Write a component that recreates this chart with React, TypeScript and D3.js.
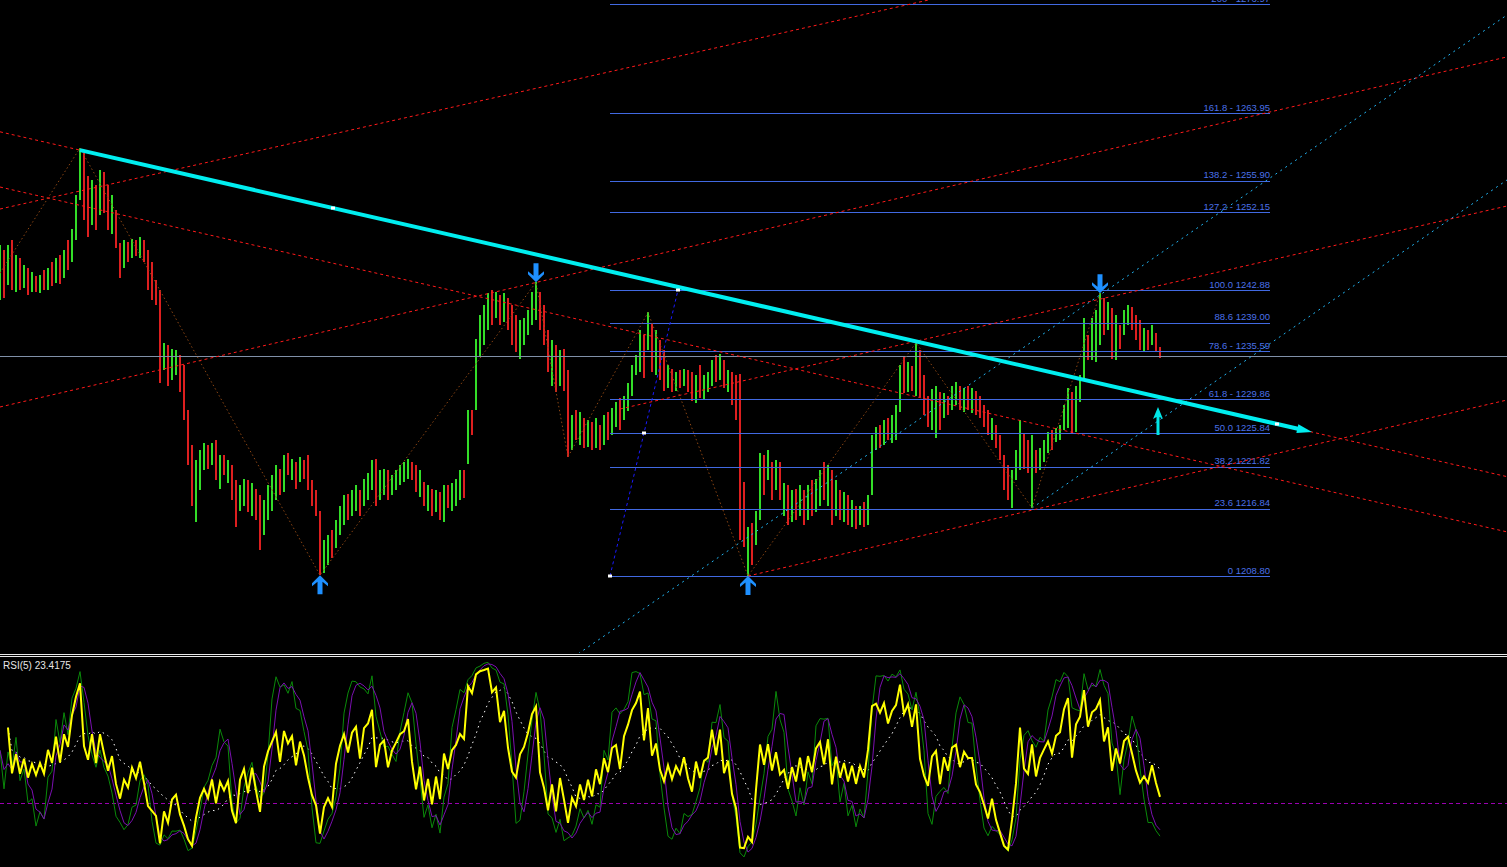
import React, { useEffect } from 'react';
import * as d3 from 'd3';

const W = 1507;
const H = 867;

// ---- price bars (one entry per bar) ----
const highs = [
  1248.2, 1247.6, 1248.3, 1248.8, 1247.0, 1246.7, 1245.9, 1245.5, 1245.0, 1244.5,
  1244.7, 1245.3, 1245.5, 1246.2, 1246.7, 1247.1, 1247.6, 1248.8, 1250.2, 1254.2,
  1259.8, 1259.2, 1256.5, 1256.0, 1255.4, 1257.2, 1256.9, 1255.4, 1254.2, 1252.4,
  1248.5, 1248.8, 1248.6, 1249.0, 1248.8, 1249.2, 1248.8, 1247.6, 1246.2, 1244.1,
  1242.9, 1236.6, 1236.3, 1235.9, 1235.7, 1235.1, 1233.9, 1228.6, 1224.4, 1222.6,
  1223.8, 1224.6, 1224.4, 1224.7, 1225.0, 1223.2, 1223.2, 1222.6, 1222.0, 1220.2,
  1219.6, 1220.4, 1220.2, 1219.9, 1219.2, 1218.4, 1217.8, 1219.6, 1220.8, 1222.0,
  1221.6, 1223.2, 1223.4, 1222.8, 1222.4, 1223.0, 1222.6, 1223.2, 1220.2, 1219.0,
  1216.6, 1213.1, 1213.7, 1214.3, 1215.5, 1217.2, 1218.4, 1218.6, 1219.0, 1219.6,
  1219.0, 1220.4, 1221.1, 1222.6, 1222.8, 1221.4, 1221.6, 1221.4, 1220.8, 1221.4,
  1222.0, 1222.4, 1222.8, 1222.4, 1222.0, 1221.4, 1220.0, 1219.6, 1219.2, 1219.0,
  1218.8, 1219.6, 1219.6, 1219.9, 1220.4, 1221.4, 1221.4, 1228.6, 1228.6, 1237.1,
  1239.9, 1241.1, 1242.5, 1242.9, 1242.6, 1242.3, 1242.5, 1241.9, 1241.1, 1239.9,
  1239.3, 1239.5, 1240.5, 1242.6, 1243.8, 1242.6, 1241.1, 1238.1, 1236.9, 1236.3,
  1235.7, 1235.9, 1233.3, 1228.0, 1228.6, 1228.3, 1227.6, 1227.4, 1227.1, 1227.6,
  1226.8, 1228.0, 1228.3, 1228.8, 1229.5, 1230.0, 1230.3, 1231.8, 1233.9, 1235.1,
  1238.1, 1237.5, 1240.2, 1239.0, 1238.1, 1236.9, 1235.7, 1233.9, 1233.5, 1233.1,
  1233.3, 1233.5, 1233.3, 1233.1, 1232.7, 1233.9, 1232.7, 1233.1, 1234.5, 1235.1,
  1235.3, 1234.5, 1233.3, 1233.1, 1232.7, 1232.9, 1220.0, 1214.6, 1215.1, 1216.6,
  1223.5, 1223.2, 1223.8, 1222.4, 1222.6, 1222.4, 1219.9, 1219.6, 1219.0, 1219.2,
  1219.6, 1219.0, 1219.6, 1220.2, 1220.4, 1221.4, 1222.4, 1222.0, 1221.4, 1220.2,
  1219.0, 1218.8, 1218.4, 1217.8, 1217.2, 1217.2, 1217.6, 1218.4, 1225.6, 1226.5,
  1226.8, 1227.4, 1227.6, 1228.0, 1229.2, 1233.9, 1234.9, 1234.3, 1233.8, 1236.6,
  1235.7, 1232.7, 1230.3, 1231.1, 1231.5, 1230.7, 1230.6, 1230.3, 1231.5, 1231.9,
  1231.5, 1231.2, 1231.5, 1231.2, 1230.9, 1230.3, 1229.2, 1228.6, 1227.6, 1226.8,
  1225.6, 1223.2, 1222.0, 1221.4, 1223.8, 1227.4, 1225.8, 1225.0, 1225.6, 1223.8,
  1224.0, 1225.0, 1225.9, 1226.2, 1226.4, 1226.8, 1229.2, 1231.2, 1230.7, 1231.5,
  1232.7, 1239.5, 1237.5, 1239.6, 1240.5, 1242.5, 1241.9, 1241.4, 1240.7, 1239.9,
  1238.7, 1240.5, 1241.1, 1240.9, 1239.9, 1239.3, 1238.4, 1238.1, 1238.7, 1237.7,
  1236.1,
];

const lows = [
  1241.7, 1241.9, 1243.5, 1242.9, 1242.6, 1242.9, 1243.1, 1242.3, 1242.6, 1242.6,
  1242.5, 1242.9, 1242.9, 1243.3, 1243.7, 1243.6, 1244.3, 1245.3, 1246.2, 1248.8,
  1253.6, 1251.2, 1249.2, 1250.6, 1250.0, 1251.8, 1252.1, 1250.0, 1249.6, 1247.9,
  1244.3, 1245.5, 1246.2, 1246.7, 1246.9, 1246.7, 1246.2, 1242.9, 1241.7, 1241.1,
  1231.8, 1233.3, 1231.5, 1232.1, 1232.7, 1230.7, 1227.4, 1222.0, 1217.2, 1215.2,
  1219.0, 1221.4, 1221.6, 1222.0, 1220.2, 1219.2, 1220.8, 1219.9, 1217.8, 1214.6,
  1216.6, 1217.2, 1216.4, 1216.0, 1215.5, 1211.9, 1213.7, 1215.5, 1216.6, 1217.8,
  1218.4, 1218.8, 1220.8, 1220.2, 1219.2, 1220.0, 1220.4, 1219.0, 1217.2, 1216.0,
  1208.9, 1209.2, 1210.1, 1210.9, 1212.1, 1213.7, 1214.9, 1215.5, 1216.0, 1216.6,
  1216.0, 1217.2, 1217.8, 1219.0, 1217.2, 1217.8, 1218.4, 1217.8, 1218.4, 1219.0,
  1219.6, 1220.0, 1220.4, 1220.2, 1218.8, 1218.2, 1217.2, 1216.6, 1216.0, 1216.4,
  1215.5, 1215.2, 1216.9, 1216.6, 1217.2, 1217.8, 1218.1, 1222.2, 1225.6, 1228.6,
  1234.9, 1236.3, 1238.1, 1238.7, 1239.5, 1238.7, 1239.1, 1238.1, 1236.3, 1235.5,
  1234.7, 1236.3, 1237.5, 1238.7, 1239.3, 1238.1, 1236.3, 1233.1, 1231.5, 1230.7,
  1231.5, 1230.9, 1223.0, 1223.8, 1225.0, 1224.4, 1224.0, 1224.2, 1223.8, 1224.0,
  1223.8, 1224.4, 1225.0, 1225.6, 1226.5, 1226.2, 1227.4, 1228.5, 1230.3, 1232.7,
  1233.1, 1232.4, 1235.7, 1233.1, 1232.7, 1232.1, 1230.9, 1231.2, 1230.7, 1230.9,
  1231.2, 1231.5, 1230.7, 1229.7, 1229.4, 1230.0, 1229.8, 1230.7, 1231.5, 1231.9,
  1232.1, 1231.2, 1230.7, 1229.2, 1227.4, 1213.1, 1212.3, 1208.8, 1210.1, 1212.5,
  1215.5, 1218.4, 1220.2, 1217.8, 1219.0, 1217.8, 1216.0, 1214.9, 1215.2, 1215.5,
  1216.0, 1214.9, 1215.5, 1216.0, 1216.4, 1217.2, 1217.8, 1217.2, 1214.9, 1216.0,
  1215.5, 1215.2, 1214.9, 1214.6, 1214.4, 1214.9, 1214.6, 1214.9, 1218.4, 1223.8,
  1224.0, 1224.4, 1225.0, 1224.7, 1225.0, 1228.3, 1230.6, 1230.7, 1230.9, 1230.3,
  1230.1, 1228.0, 1226.5, 1226.2, 1225.3, 1226.2, 1227.6, 1228.0, 1228.6, 1229.2,
  1228.6, 1228.3, 1228.6, 1228.2, 1228.0, 1227.6, 1226.5, 1225.6, 1225.0, 1224.1,
  1222.6, 1219.0, 1217.8, 1216.9, 1220.2, 1221.4, 1221.6, 1221.1, 1216.9, 1221.1,
  1221.4, 1222.4, 1223.5, 1223.8, 1224.8, 1225.0, 1226.2, 1226.4, 1225.8, 1225.9,
  1229.5, 1232.1, 1234.5, 1234.5, 1234.3, 1236.3, 1237.5, 1238.1, 1234.7, 1234.5,
  1235.9, 1237.5, 1238.7, 1238.1, 1236.9, 1235.7, 1235.5, 1235.7, 1236.3, 1235.5,
  1234.8,
];

const closes = [
  1245.3, 1242.9, 1247.6, 1244.1, 1246.2, 1243.5, 1245.3, 1242.9, 1244.3, 1243.1,
  1244.1, 1243.2, 1245.0, 1244.1, 1246.2, 1244.5, 1247.0, 1246.2, 1249.8, 1253.6,
  1258.4, 1252.4, 1250.6, 1254.8, 1251.0, 1256.2, 1253.6, 1251.0, 1253.0, 1248.8,
  1245.9, 1247.9, 1246.7, 1248.6, 1247.4, 1248.8, 1246.7, 1243.5, 1242.7, 1241.9,
  1233.3, 1235.9, 1232.7, 1234.7, 1235.1, 1231.5, 1228.6, 1223.2, 1219.0, 1221.4,
  1223.2, 1224.0, 1222.6, 1224.0, 1220.8, 1222.4, 1221.4, 1222.0, 1218.4, 1216.0,
  1219.0, 1219.9, 1217.2, 1219.2, 1216.6, 1213.1, 1217.2, 1219.0, 1220.2, 1221.4,
  1219.0, 1222.6, 1221.6, 1222.4, 1220.2, 1222.4, 1221.4, 1219.6, 1217.8, 1216.6,
  1210.7, 1212.5, 1213.1, 1211.9, 1214.9, 1216.6, 1217.8, 1216.6, 1218.4, 1219.0,
  1217.2, 1219.9, 1220.4, 1222.0, 1218.4, 1220.4, 1220.8, 1219.0, 1220.2, 1220.8,
  1221.4, 1221.6, 1222.4, 1220.8, 1219.2, 1220.2, 1217.8, 1218.8, 1216.6, 1218.0,
  1216.0, 1219.0, 1217.8, 1219.2, 1219.6, 1220.4, 1220.2, 1228.0, 1227.6, 1236.3,
  1239.3, 1240.5, 1241.9, 1240.5, 1242.0, 1239.9, 1241.7, 1239.1, 1236.9, 1236.3,
  1238.1, 1238.7, 1239.9, 1241.9, 1242.9, 1238.7, 1237.1, 1233.9, 1235.7, 1231.5,
  1234.3, 1230.9, 1225.0, 1227.4, 1225.6, 1227.6, 1225.0, 1226.8, 1224.4, 1226.8,
  1225.0, 1227.4, 1226.0, 1228.3, 1228.6, 1226.8, 1229.8, 1231.2, 1233.3, 1234.5,
  1236.9, 1233.9, 1239.3, 1234.5, 1236.3, 1233.1, 1231.5, 1233.1, 1231.5, 1232.6,
  1231.9, 1233.1, 1231.5, 1230.3, 1232.1, 1230.9, 1231.9, 1232.1, 1233.9, 1232.7,
  1234.5, 1231.9, 1232.7, 1230.0, 1228.3, 1213.7, 1213.1, 1214.0, 1211.3, 1216.0,
  1222.8, 1219.6, 1223.2, 1219.0, 1222.0, 1218.4, 1219.0, 1216.0, 1218.4, 1216.4,
  1219.0, 1216.0, 1218.8, 1216.9, 1219.6, 1220.4, 1218.4, 1221.1, 1216.0, 1219.2,
  1216.4, 1218.0, 1215.7, 1217.2, 1215.1, 1216.6, 1215.5, 1217.8, 1225.0, 1225.6,
  1225.0, 1226.8, 1225.6, 1227.4, 1228.3, 1233.3, 1231.5, 1233.3, 1231.9, 1235.7,
  1230.9, 1228.8, 1227.4, 1230.3, 1230.9, 1227.4, 1230.0, 1228.6, 1230.9, 1231.2,
  1229.5, 1230.7, 1230.3, 1230.3, 1228.8, 1228.3, 1227.4, 1226.2, 1226.8, 1225.0,
  1223.2, 1220.0, 1218.4, 1219.6, 1221.4, 1226.5, 1222.6, 1222.0, 1225.0, 1221.6,
  1223.5, 1224.4, 1225.2, 1224.4, 1225.9, 1226.2, 1228.6, 1230.3, 1226.8, 1230.7,
  1231.9, 1238.7, 1235.5, 1238.7, 1239.5, 1241.7, 1238.3, 1240.5, 1235.7, 1238.7,
  1236.9, 1239.9, 1240.5, 1239.1, 1237.5, 1236.3, 1236.7, 1236.2, 1237.1, 1236.0,
  1235.0,
];

// ---- Fibonacci retracement ----
const fibLow = 1208.8;
const fibHigh = 1242.88;
const fibAnchorIdx = [152.5, 169.5];
const fibEndIdx = 317.5;
const fibLevels = [0, 23.6, 38.2, 50, 61.8, 78.6, 88.6, 100, 127.2, 138.2, 161.8, 200];
const fibLabels = [
  '0 1208.80', '23.6 1216.84', '38.2 1221.82', '50.0 1225.84', '61.8 - 1229.86',
  '78.6 - 1235.59', '88.6 1239.00', '100.0 1242.88', '127.2 - 1252.15',
  '138.2 - 1255.90', '161.8 - 1263.95', '200 - 1276.97',
];

// ---- drawn objects (bar index, price) ----
const mainTrend = [[83.25, 1252.65], [319.25, 1226.91]];
const mainTrendSpan = [20, 328];
const redLines = [
  { a: [0, 1252.53], b: [100, 1263.26], ray: false },
  { a: [0, 1228.94], b: [250, 1256.62], ray: false },
  { a: [83.25, 1252.65], b: [319.25, 1226.91], ray: false },
  { a: [0, 1255.15], b: [250, 1227.88], ray: false },
  { a: [187, 1208.8], b: [376.75, 1229.77], ray: true },
  { a: [155, 1228.7], b: [376.75, 1252.89], ray: true },
];
const cyanDotted = [
  { a: [144.5, 1199.51], b: [376.75, 1275.65], ray: false },
  { a: [258, 1216.9], b: [376.75, 1255.99], ray: true },
];
const zigzag = [
  [0, 1244.9], [20, 1259.8], [80, 1208.9], [134, 1243.8], [142, 1223.0],
  [162, 1240.2], [187, 1208.8], [229, 1236.6], [258, 1216.9], [275, 1242.5],
];
const upSignals = [80, 187];
const downSignals = [134, 275];
const cyanArrow = [289.5, 1228.94];

const rsiPeriod = 5;
const rsiLabel = 'RSI(5) 23.4175';
const rsiLevel = 30;

// ---- indicator math ----
function computeRSI(c: number[], n: number) {
  const out = new Array(c.length).fill(NaN);
  let ag = 0, al = 0;
  for (let i = 1; i < c.length; i++) {
    const d = c[i] - c[i - 1];
    const g = Math.max(d, 0), l = Math.max(-d, 0);
    if (i <= n) {
      ag += g; al += l;
      const a = ag / i, b = al / i;
      if (i >= 2) out[i] = b === 0 ? 100 : 100 - 100 / (1 + a / b);
      if (i === n) { ag = ag / n; al = al / n; }
    } else {
      ag = (ag * (n - 1) + g) / n;
      al = (al * (n - 1) + l) / n;
      out[i] = al === 0 ? 100 : 100 - 100 / (1 + ag / al);
    }
  }
  return out;
}
function computeStoch(h: number[], l: number[], c: number[], k: number, slow: number) {
  const num: number[] = [], den: number[] = [];
  for (let i = 0; i < c.length; i++) {
    const s = Math.max(0, i - k + 1);
    const hh = d3.max(h.slice(s, i + 1)) as number;
    const ll = d3.min(l.slice(s, i + 1)) as number;
    num.push(c[i] - ll); den.push(hh - ll);
  }
  return c.map((_, i) => {
    const s = Math.max(0, i - slow + 1);
    const n = d3.sum(num.slice(s, i + 1)), dd = d3.sum(den.slice(s, i + 1));
    return dd === 0 ? 50 : (100 * n) / dd;
  });
}
function sma(a: number[], n: number) {
  return a.map((_, i) => {
    const vals = a.slice(Math.max(0, i - n + 1), i + 1).filter((v) => !isNaN(v));
    return vals.length ? (d3.mean(vals) as number) : NaN;
  });
}

export default function App() {
  useEffect(() => {
    document.body.style.margin = '0';
    document.body.style.background = '#000';
  }, []);

  const N = closes.length;
  const x = d3.scaleLinear().domain([0, N - 1]).range([0, 1160]);
  const y = d3.scaleLinear().domain([fibLow, fibHigh]).range([576, 290]);
  const yR = d3.scaleLinear().domain([0, 100]).range([866, 657]);

  const lineEnds = (a: number[], b: number[], ray: boolean) => {
    const x1 = x(a[0]), y1 = y(a[1]), x2 = x(b[0]), y2 = y(b[1]);
    const m = (y2 - y1) / (x2 - x1);
    const xs = ray ? x1 : 0;
    return { x1: xs, y1: y1 + m * (xs - x1), x2: W, y2: y1 + m * (W - x1) };
  };

  const rsi = computeRSI(closes, rsiPeriod);
  const stK = computeStoch(highs, lows, closes, 7, 3);
  const stD = sma(stK, 3);
  const rsiMa = sma(rsi, 10);
  const rLine = d3.line<number>().x((_, i) => x(i)).y((v) => yR(v)).defined((v) => !isNaN(v));

  // main trend line geometry
  const tA = mainTrend[0], tB = mainTrend[1];
  const tSlope = (tB[1] - tA[1]) / (tB[0] - tA[0]);
  const tPrice = (i: number) => tA[1] + tSlope * (i - tA[0]);
  const sx = x(mainTrendSpan[0]), sy = y(tPrice(mainTrendSpan[0]));
  const ex = x(mainTrendSpan[1]), ey = y(tPrice(mainTrendSpan[1]));
  const len = Math.hypot(ex - sx, ey - sy);
  const ux = (ex - sx) / len, uy = (ey - sy) / len;
  const head = `M${ex},${ey} L${ex - 15 * ux - 4.5 * uy},${ey - 15 * uy + 4.5 * ux} L${ex - 15 * ux + 4.5 * uy},${ey - 15 * uy - 4.5 * ux} Z`;

  const zz = d3.line<number[]>().x((d) => x(d[0])).y((d) => y(d[1]))(zigzag) as string;

  const upArrow = (cx: number, ty: number) =>
    `M${cx},${ty} L${cx + 8},${ty + 8} L${cx + 8},${ty + 11} L${cx + 2.5},${ty + 6.5} L${cx + 2.5},${ty + 19} L${cx - 2.5},${ty + 19} L${cx - 2.5},${ty + 6.5} L${cx - 8},${ty + 11} L${cx - 8},${ty + 8} Z`;
  const downArrow = (cx: number, by: number) =>
    `M${cx},${by} L${cx + 8},${by - 8} L${cx + 8},${by - 11} L${cx + 2.5},${by - 6.5} L${cx + 2.5},${by - 19} L${cx - 2.5},${by - 19} L${cx - 2.5},${by - 6.5} L${cx - 8},${by - 11} L${cx - 8},${by - 8} Z`;
  const cax = x(cyanArrow[0]), cay = y(cyanArrow[1]);
  const cyanArrowPath = `M${cax},${cay} L${cax + 5},${cay + 12} L${cax + 1.5},${cay + 10} L${cax + 1.5},${cay + 28} L${cax - 1.5},${cay + 28} L${cax - 1.5},${cay + 10} L${cax - 5},${cay + 12} Z`;

  const fibX1 = x(fibAnchorIdx[0]);
  const fibX2 = x(fibEndIdx);
  const fibPrice = (lv: number) => fibLow + (lv / 100) * (fibHigh - fibLow);
  const lastClose = closes[N - 1];

  const markers: number[][] = [
    [mainTrend[0][0], mainTrend[0][1]],
    [mainTrend[1][0], mainTrend[1][1]],
    [fibAnchorIdx[0], fibLow],
    [(fibAnchorIdx[0] + fibAnchorIdx[1]) / 2, (fibLow + fibHigh) / 2],
    [fibAnchorIdx[1], fibHigh],
  ];

  return (
    <svg width={W} height={H} style={{ display: 'block', background: '#000' }}>
      <defs>
        <clipPath id="mainClip"><rect x={0} y={0} width={W} height={653} /></clipPath>
        <clipPath id="rsiClip"><rect x={0} y={657} width={W} height={210} /></clipPath>
      </defs>
      <rect x={0} y={0} width={W} height={H} fill="#000" />

      <g clipPath="url(#mainClip)">
        {/* bars */}
        <g shapeRendering="crispEdges">
          {closes.map((c, i) => {
            const prev = i > 0 ? closes[i - 1] : c;
            const up = c >= prev;
            return (
              <rect key={i} x={x(i) - 1} y={y(highs[i])} width={2}
                height={Math.max(1, y(lows[i]) - y(highs[i]))}
                fill={up ? '#33dd28' : '#dd1f1f'} />
            );
          })}
        </g>

        {/* fibonacci levels */}
        <g shapeRendering="crispEdges">
          {fibLevels.map((lv) => (
            <line key={lv} x1={fibX1} x2={fibX2} y1={Math.round(y(fibPrice(lv))) + 0.5}
              y2={Math.round(y(fibPrice(lv))) + 0.5} stroke="#4169e1" strokeWidth={1} />
          ))}
        </g>
        {fibLevels.map((lv, i) => (
          <text key={'t' + lv} x={fibX2} y={y(fibPrice(lv)) - 2.5} textAnchor="end"
            fontFamily="'Liberation Sans', Arial, sans-serif" fontSize={9.5} fill="#4a70e8">
            {fibLabels[i]}
          </text>
        ))}

        {/* current price line */}
        <line x1={0} x2={W} y1={Math.round(y(lastClose)) + 0.5} y2={Math.round(y(lastClose)) + 0.5}
          stroke="#8090a8" strokeWidth={1} shapeRendering="crispEdges" />

        {/* red dashed channel lines */}
        {redLines.map((l, i) => {
          const e = lineEnds(l.a, l.b, l.ray);
          return <line key={'r' + i} {...e} stroke="#ff1a1a" strokeWidth={1} strokeDasharray="3,3" />;
        })}

        {/* cyan dotted lines */}
        {cyanDotted.map((l, i) => {
          const e = lineEnds(l.a, l.b, l.ray);
          return <line key={'c' + i} {...e} stroke="#22b4f2" strokeWidth={1} strokeDasharray="2,4" />;
        })}

        {/* fib anchor line */}
        <line x1={x(fibAnchorIdx[0])} y1={y(fibLow)} x2={x(fibAnchorIdx[1])} y2={y(fibHigh)}
          stroke="#1a1aff" strokeWidth={1} strokeDasharray="3,3" />

        {/* zigzag */}
        <path d={zz} fill="none" stroke="#8b4513" strokeWidth={1} strokeDasharray="1.5,2.5" />

        {/* main cyan trend line */}
        <line x1={sx} y1={sy} x2={ex - 10 * ux} y2={ey - 10 * uy} stroke="#00eef0" strokeWidth={4} />
        <path d={head} fill="#00eef0" />

        {/* arrows */}
        {upSignals.map((i) => (
          <path key={'u' + i} d={upArrow(x(i), y(lows[i]))} fill="#1e90ff" />
        ))}
        {downSignals.map((i) => (
          <path key={'d' + i} d={downArrow(x(i), y(highs[i]))} fill="#1e90ff" />
        ))}
        <path d={cyanArrowPath} fill="#00e6e6" />

        {/* anchor markers */}
        {markers.map((m, i) => (
          <rect key={'m' + i} x={x(m[0]) - 2} y={y(m[1]) - 1.5} width={4} height={3} fill="#ffffff" />
        ))}
      </g>

      {/* panel separator */}
      <line x1={0} x2={W} y1={654.5} y2={654.5} stroke="#e8e8e8" strokeWidth={1} shapeRendering="crispEdges" />
      <line x1={0} x2={W} y1={656.5} y2={656.5} stroke="#e8e8e8" strokeWidth={1} shapeRendering="crispEdges" />

      {/* RSI panel */}
      <g clipPath="url(#rsiClip)">
        <line x1={0} x2={W} y1={Math.round(yR(rsiLevel)) + 0.5} y2={Math.round(yR(rsiLevel)) + 0.5}
          stroke="#9a00b0" strokeWidth={1} strokeDasharray="4,3" shapeRendering="crispEdges" />
        <path d={rLine(rsiMa) as string} fill="none" stroke="#ffffff" strokeWidth={1} strokeDasharray="1.5,4" />
        <path d={rLine(stK) as string} fill="none" stroke="#0a8a0a" strokeWidth={1} />
        <path d={rLine(stD) as string} fill="none" stroke="#7a10b0" strokeWidth={1} />
        <path d={rLine(rsi) as string} fill="none" stroke="#ffff00" strokeWidth={2} />
      </g>
      <text x={3} y={669} fontFamily="'Liberation Sans', Arial, sans-serif" fontSize={10} fill="#e6e6e6">
        {rsiLabel}
      </text>
    </svg>
  );
}
